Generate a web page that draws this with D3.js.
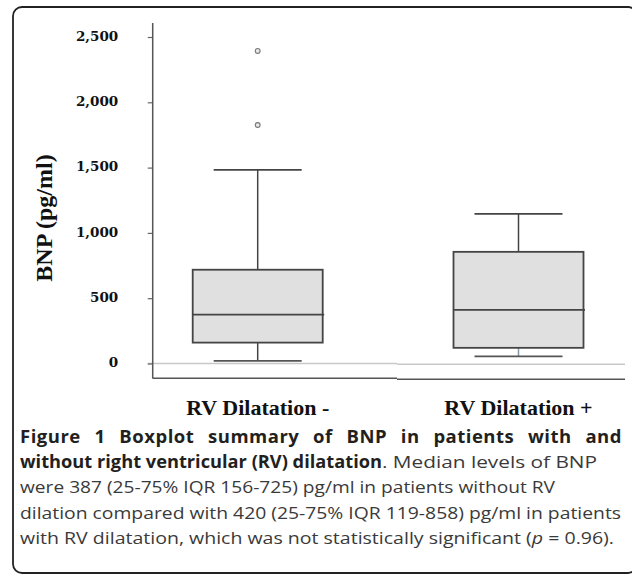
<!DOCTYPE html>
<html>
<head>
<meta charset="utf-8">
<script src="https://cdn.jsdelivr.net/npm/d3@7"></script>
<style>
  html, body { margin: 0; padding: 0; background: #fff; }
  svg { display: block; }
</style>
</head>
<body>
<svg id="chart" width="632" height="574"></svg>
<script>
// ---- data ----
const categories = ["RV Dilatation -", "RV Dilatation +"];
const whiskerLow = [20, 55];
const q1 = [160, 120];
const median = [375, 410];
const q3 = [718, 855];
const whiskerHigh = [1482, 1145];
const outliers = [[1826, 2393], []];
const yTicks = [0, 500, 1000, 1500, 2000, 2500];
const yLabel = "BNP (pg/ml)";

const captionLines = [
  [{t: "Figure 1 Boxplot summary of BNP in patients with and", w: "bold", len: 602}],
  [{t: "without right ventricular (RV) dilatation", w: "bold", len: 362},
   {t: ". Median levels of BNP", w: "normal", len: 215}],
  [{t: "were 387 (25-75% IQR 156-725) pg/ml in patients without RV", w: "normal"}],
  [{t: "dilation compared with 420 (25-75% IQR 119-858) pg/ml in patients", w: "normal"}],
  [{t: "with RV dilatation, which was not statistically significant (", w: "normal"},
   {t: "p", w: "normal", i: true}, {t: " = 0.96).", w: "normal"}]
];
const captionWidths = [602, 577, 535, 601, 594];

// ---- layout ----
const svg = d3.select("#chart");
const axisX = 152.7;

// frame
svg.append("rect")
  .attr("x", 13).attr("y", 7)
  .attr("width", 624).attr("height", 566)
  .attr("rx", 9).attr("ry", 9)
  .attr("fill", "none").attr("stroke", "#222").attr("stroke-width", 1.8);

const y = d3.scaleLinear().domain([0, 2500]).range([363.5, 37]);
const x = d3.scalePoint().domain(categories).range([257.7, 518.5]);
const boxW = 130, capW = 88;

// zero reference line (light gray)
svg.append("line")
  .attr("x1", axisX - 5).attr("x2", 397)
  .attr("y1", y(0)).attr("y2", y(0))
  .attr("stroke", "#c8c8c8").attr("stroke-width", 1.5);
svg.append("line")
  .attr("x1", 397).attr("x2", 625)
  .attr("y1", y(0) + 0.7).attr("y2", y(0) + 0.7)
  .attr("stroke", "#c8c8c8").attr("stroke-width", 1.5);

// y axis
const yAxis = d3.axisLeft(y).tickValues(yTicks).tickFormat(d3.format(","))
  .tickSize(5).tickPadding(29.5);
const gy = svg.append("g").attr("transform", `translate(${axisX},0)`).call(yAxis);
gy.select(".domain").remove();
gy.selectAll(".tick line").attr("stroke", "#666").attr("stroke-width", 1.2);
gy.selectAll(".tick text")
  .attr("fill", "#111")
  .style("font-family", "'DejaVu Serif', serif")
  .style("font-weight", "bold")
  .style("font-size", "13.5px")
  .attr("dy", "0.25em");

svg.append("line")
  .attr("x1", axisX).attr("x2", axisX)
  .attr("y1", 23).attr("y2", 378.5)
  .attr("stroke", "#555").attr("stroke-width", 1.5);

// bottom axis (two segments)
svg.append("line")
  .attr("x1", axisX).attr("x2", 397)
  .attr("y1", 378.3).attr("y2", 378.3)
  .attr("stroke", "#555").attr("stroke-width", 1.5);
svg.append("line")
  .attr("x1", 397).attr("x2", 625)
  .attr("y1", 379.3).attr("y2", 379.3)
  .attr("stroke", "#555").attr("stroke-width", 1.5);

// boxes
const data = categories.map((c, i) => ({
  c, lo: whiskerLow[i], q1: q1[i], med: median[i], q3: q3[i], hi: whiskerHigh[i], out: outliers[i], i
}));

const g = svg.append("g");
const boxes = g.selectAll("g.box").data(data).join("g").attr("class", "box");

boxes.append("line")
  .attr("x1", d => x(d.c)).attr("x2", d => x(d.c))
  .attr("y1", d => y(d.q1)).attr("y2", d => y(d.lo))
  .attr("stroke", d => d.i === 1 ? "#8a96a8" : "#444").attr("stroke-width", 1.5);
boxes.append("line")
  .attr("x1", d => x(d.c)).attr("x2", d => x(d.c))
  .attr("y1", d => y(d.q3)).attr("y2", d => y(d.hi))
  .attr("stroke", "#444").attr("stroke-width", 1.5);
boxes.append("line")
  .attr("x1", d => x(d.c) - capW / 2).attr("x2", d => x(d.c) + capW / 2)
  .attr("y1", d => y(d.lo)).attr("y2", d => y(d.lo))
  .attr("stroke", "#555").attr("stroke-width", 1.8);
boxes.append("line")
  .attr("x1", d => x(d.c) - capW / 2).attr("x2", d => x(d.c) + capW / 2)
  .attr("y1", d => y(d.hi)).attr("y2", d => y(d.hi))
  .attr("stroke", "#444").attr("stroke-width", 1.8);
boxes.append("rect")
  .attr("x", d => x(d.c) - boxW / 2)
  .attr("y", d => y(d.q3))
  .attr("width", boxW)
  .attr("height", d => y(d.q1) - y(d.q3))
  .attr("fill", "#e0e0e0").attr("stroke", "#444").attr("stroke-width", 1.8);
boxes.append("line")
  .attr("x1", d => x(d.c) - boxW / 2).attr("x2", d => x(d.c) + boxW / 2 + 1.5)
  .attr("y1", d => y(d.med)).attr("y2", d => y(d.med))
  .attr("stroke", "#444").attr("stroke-width", 1.8);
boxes.selectAll("circle").data(d => d.out.map(v => ({c: d.c, v}))).join("circle")
  .attr("cx", d => x(d.c)).attr("cy", d => y(d.v))
  .attr("r", 2.4)
  .attr("fill", "#e8e8e8").attr("stroke", "#777").attr("stroke-width", 1.1);

// category labels
svg.selectAll("text.cat").data(categories).join("text")
  .attr("class", "cat")
  .attr("x", d => x(d)).attr("y", 415)
  .attr("text-anchor", "middle")
  .style("font-family", "'Liberation Serif', serif")
  .style("font-weight", "bold")
  .style("font-size", "22px")
  .attr("fill", "#111")
  .text(d => d);

// y label
svg.append("text")
  .attr("transform", "translate(52,218) rotate(-90)")
  .attr("text-anchor", "middle")
  .style("font-family", "'Liberation Serif', serif")
  .style("font-weight", "bold")
  .style("font-size", "24px")
  .attr("fill", "#111")
  .text(yLabel);

// caption
const capBase = [442.5, 468, 493, 518.5, 544];
captionLines.forEach((parts, li) => {
  const t = svg.append("text")
    .attr("x", 20).attr("y", capBase[li])
    .style("font-family", "'Open Sans', sans-serif")
    .style("font-size", "17px");
  if (li === 0) {
    const p = parts[0];
    t.append("tspan")
      .style("font-weight", "bold")
      .style("font-size", "18.5px")
      .style("letter-spacing", "0.5px")
      .attr("fill", "#231f20")
      .text(p.t);
    const nat = t.node().getComputedTextLength();
    const spaces = p.t.split(" ").length - 1;
    if (nat < p.len) t.style("word-spacing", ((p.len - nat) / spaces) + "px");
    else t.attr("textLength", p.len).attr("lengthAdjust", "spacingAndGlyphs");
    return;
  }
  const hasPartLens = parts.every(p => p.len);
  parts.forEach(p => {
    const ts = t.append("tspan")
      .style("font-weight", p.w)
      .style("font-style", p.i ? "italic" : "normal")
      .style("font-size", p.w === "bold" ? "17.5px" : "17px")
      .attr("fill", p.w === "bold" ? "#231f20" : "#3a3a3a")
      .text(p.t);
    if (hasPartLens) {
      ts.attr("textLength", p.len).attr("lengthAdjust", "spacingAndGlyphs");
    }
  });
  if (!hasPartLens) {
    t.attr("textLength", captionWidths[li]).attr("lengthAdjust", "spacingAndGlyphs");
  }
});
</script>
</body>
</html>
